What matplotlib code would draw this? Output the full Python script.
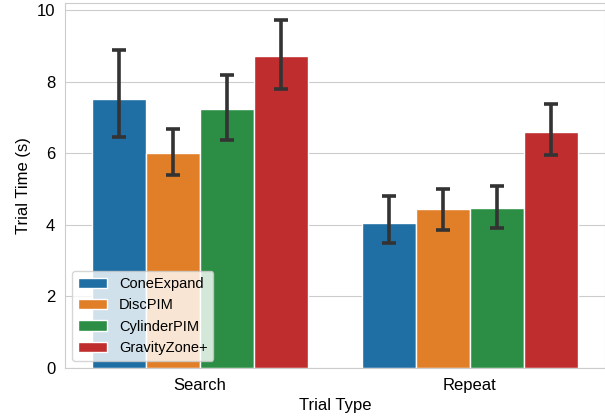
import numpy as np
import matplotlib
matplotlib.use("Agg")
import matplotlib.pyplot as plt
import seaborn as sns

# Values
trial_types = ["Search", "Repeat"]
techniques = ["ConeExpand", "DiscPIM", "CylinderPIM", "GravityZone+"]
means = {
    "ConeExpand":   [7.51, 4.04],
    "DiscPIM":      [6.00, 4.44],
    "CylinderPIM":  [7.23, 4.47],
    "GravityZone+": [8.72, 6.60],
}
ci_low = {
    "ConeExpand":   [6.45, 3.50],
    "DiscPIM":      [5.39, 3.85],
    "CylinderPIM":  [6.37, 3.90],
    "GravityZone+": [7.79, 5.94],
}
ci_high = {
    "ConeExpand":   [8.88, 4.80],
    "DiscPIM":      [6.68, 4.99],
    "CylinderPIM":  [8.18, 5.09],
    "GravityZone+": [9.72, 7.38],
}
colors = ["#1f6ea4", "#e07f28", "#2c8e44", "#c02d2e"]

sns.set_style("whitegrid")
plt.rcParams["font.family"] = ["Liberation Sans", "DejaVu Sans"]

fig = plt.figure(figsize=(6.05, 4.2), dpi=100)
ax = fig.add_axes([65 / 605, 1 - 368 / 420, 540 / 605, 365 / 420])

x = np.arange(len(trial_types))
width = 0.8 / len(techniques)
for i, (name, col) in enumerate(zip(techniques, colors)):
    pos = x - 0.4 + width * (i + 0.5)
    m = np.array(means[name])
    err = [m - np.array(ci_low[name]), np.array(ci_high[name]) - m]
    ax.bar(pos, m, width, color=col, edgecolor="white", linewidth=1, label=name)
    ax.errorbar(pos, m, yerr=err, fmt="none", ecolor="#333333",
                elinewidth=2.6, capsize=5, capthick=2.6)

ax.set_xticks(x)
ax.set_xticklabels(trial_types, fontsize=12, color="black")
ax.set_xlim(-0.5, 1.5)
ax.set_ylim(0, 10.2)
ax.set_yticks([0, 2, 4, 6, 8, 10])
ax.tick_params(axis="y", labelsize=12, labelcolor="black")
ax.xaxis.grid(False)
ax.set_axisbelow(True)
ax.set_xlabel("Trial Type", fontsize=12, color="black")
ax.set_ylabel("Trial Time (s)", fontsize=12, color="black")
leg = ax.legend(loc="lower left", fontsize=10.5)
for t in leg.get_texts():
    t.set_color("black")

fig.savefig("out.png", dpi=100)
